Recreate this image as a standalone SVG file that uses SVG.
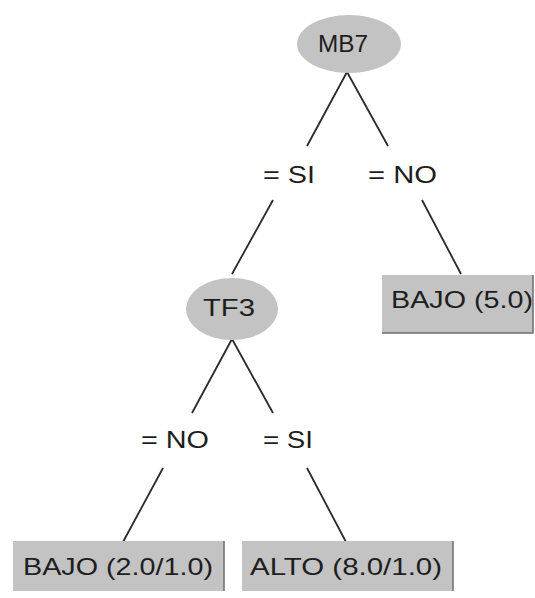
<svg xmlns="http://www.w3.org/2000/svg" width="535" height="598" viewBox="0 0 535 598">
  <style>
    .node { fill: #c3c3c3; }
    .edge { stroke: #2a2a2a; stroke-width: 1.8; fill: none; }
    .rim { stroke: #6e6e6e; stroke-width: 1.5; fill: none; }
    text { font-family: "Liberation Sans", Arial, sans-serif; font-size: 24px; fill: #1e1e1e; }
  </style>
  <rect width="535" height="598" fill="#ffffff"/>

  <!-- connectors and branch labels -->
  <g id="connectors">
    <line class="edge" x1="347" y1="72" x2="307" y2="146"/>
    <line class="edge" x1="347" y1="72" x2="388" y2="146"/>
    <line class="edge" x1="273" y1="200" x2="232" y2="274"/>
    <line class="edge" x1="422" y1="200" x2="461" y2="274"/>
    <line class="edge" x1="232" y1="339" x2="192" y2="413"/>
    <line class="edge" x1="232" y1="339" x2="273" y2="413"/>
    <line class="edge" x1="163" y1="468" x2="123" y2="542"/>
    <line class="edge" x1="307" y1="468" x2="346" y2="542"/>
    <text x="263" y="183" textLength="52" lengthAdjust="spacingAndGlyphs">= SI</text>
    <text x="368" y="183" textLength="69" lengthAdjust="spacingAndGlyphs">= NO</text>
    <text x="141" y="448" textLength="68" lengthAdjust="spacingAndGlyphs">= NO</text>
    <text x="263" y="448" textLength="50" lengthAdjust="spacingAndGlyphs">= SI</text>
  </g>

  <g id="mb7">
    <ellipse class="node" cx="349" cy="44" rx="52" ry="29"/>
    <text x="318" y="52" textLength="50" lengthAdjust="spacingAndGlyphs">MB7</text>
  </g>

  <g id="tf3">
    <ellipse class="node" cx="232" cy="309" rx="46" ry="31"/>
    <text x="203" y="316" textLength="52" lengthAdjust="spacingAndGlyphs">TF3</text>
  </g>

  <g id="bajo-5">
    <rect class="node" x="382" y="275" width="151" height="58"/>
    <path class="rim" d="M533 275 V333 H382"/>
    <text x="391" y="308" textLength="142" lengthAdjust="spacingAndGlyphs">BAJO (5.0)</text>
  </g>

  <g id="bajo-2">
    <rect class="node" x="13" y="541" width="211" height="50"/>
    <path class="rim" d="M224 541 V591"/>
    <text x="23" y="575" textLength="190" lengthAdjust="spacingAndGlyphs">BAJO (2.0/1.0)</text>
  </g>

  <g id="alto-8">
    <rect class="node" x="242" y="541" width="211" height="50"/>
    <path class="rim" d="M453 541 V591"/>
    <text x="250" y="575" textLength="192" lengthAdjust="spacingAndGlyphs">ALTO (8.0/1.0)</text>
  </g>
</svg>
